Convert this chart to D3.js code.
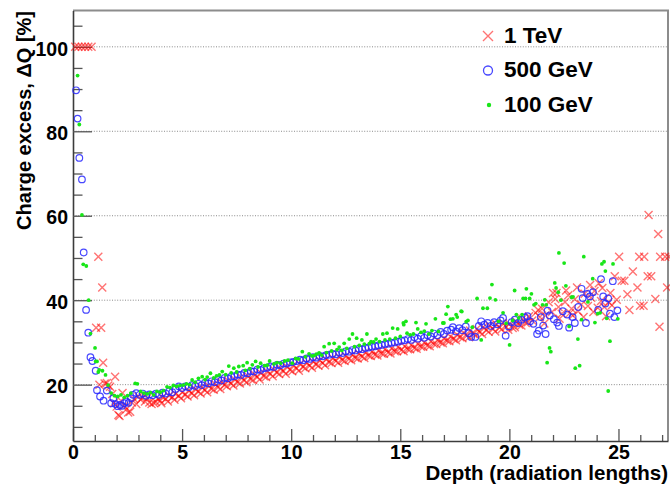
<!DOCTYPE html>
<html><head><meta charset="utf-8">
<script src="https://cdn.jsdelivr.net/npm/d3@7"></script>
<style>
body{margin:0;background:#fff}
svg{display:block}
text{font-family:"Liberation Sans",Arial,Helvetica,sans-serif;font-weight:bold;fill:#000}
</style>
</head><body>
<svg id="c" width="670" height="486"></svg>
<script>
// ---------- data ----------
const seriesNames = ["1 TeV", "500 GeV", "100 GeV"];
const xTicks = [0, 5, 10, 15, 20, 25];
const yTicks = [20, 40, 60, 80, 100];
const xTitle = "Depth (radiation lengths)";
const yTitle = "Charge excess, \u0394Q [%]";

// [depth, charge excess %]
const tev1 = [
[0.10,100],[0.25,100],[0.40,100],[0.55,100],[0.70,100],[0.85,100],
[1.06,33.5],[1.16,50.3],[1.21,20.0],[1.29,33.5],[1.34,43.0],[1.38,25.2],[1.45,20.3],[1.55,20.4],[1.62,19.8],[1.70,19.5],[1.80,17.8],[1.87,15.6],[1.93,21.9],[2.00,14.8],[2.08,12.8],[2.13,12.6],[2.20,16.2],[2.27,18.0],[2.35,15.0],[2.45,14.2],[2.53,13.4],[2.62,13.6],[2.70,15.8],[2.80,16.6],[2.90,15.4],[3.00,17.2],[3.10,16.4],[3.20,17.0],[3.30,16.0],[3.40,16.8],[3.50,15.8],[3.60,15.4],[3.70,15.7],[3.80,15.9],[3.90,16.6],[4.00,16.2],[4.10,17.0],[4.25,16.6],[4.40,17.4],[4.55,17.0],[4.70,17.8],[4.85,17.3],[5.00,18.2],[5.15,17.6],[5.30,18.6],[5.45,17.9],[5.60,19.0],[5.75,18.3],[5.90,19.4],[6.05,18.7],[6.20,19.8],[6.35,19.0],[6.50,20.2],[6.65,19.4],[6.80,20.6],[6.95,19.9],[7.10,21.0],[7.25,20.2],[7.40,21.3],[7.55,20.6],[7.70,21.8],[7.85,21.0],[8.00,22.1],[8.15,21.3],[8.30,22.5],[8.45,21.8],[8.60,22.8],[8.75,22.0],[8.90,23.2],[9.05,22.5],[9.20,23.6],[9.35,22.8],[9.50,23.9],[9.65,23.2],[9.80,24.3],[9.95,23.5],[10.10,24.6],[10.25,23.8],[10.40,24.9],[10.55,24.2],[10.70,25.2],[10.85,24.5],[11.00,25.5],[11.15,24.8],[11.30,25.8],[11.45,25.1],[11.60,26.0],[11.75,25.3],[11.90,26.3],[12.05,25.6],[12.20,26.6],[12.35,25.8],[12.50,26.8],[12.65,26.1],[12.80,27.1],[12.95,26.3],[13.10,27.3],[13.25,26.6],[13.40,27.6],[13.55,26.9],[13.70,27.8],[13.85,27.1],[14.00,28.1],[14.15,27.4],[14.30,28.4],[14.45,27.6],[14.60,28.6],[14.75,27.9],[14.90,28.9],[15.05,28.2],[15.20,29.1],[15.35,28.4],[15.50,29.4],[15.65,28.7],[15.80,29.7],[15.95,29.0],[16.10,30.0],[16.25,29.3],[16.40,30.3],[16.55,29.6],[16.70,30.6],[16.85,30.0],[17.00,31.0],[17.15,30.4],[17.30,31.4],[17.45,30.8],[17.60,31.8],[17.75,31.2],[17.90,32.3],[18.05,31.6],[18.20,32.8],[18.35,32.0],[18.50,33.2],[18.65,32.4],[18.80,33.6],[18.95,32.9],[19.10,34.0],[19.25,33.2],[19.40,34.3],[19.55,33.5],[19.70,34.6],[19.85,33.7],[20.00,34.4],[20.15,33.4],[20.30,35.0],[20.45,34.2],[20.60,35.6],[20.75,34.6],[20.90,36.2],[21.05,35.2],[21.20,37.0],[21.32,37.7],[21.40,36.0],[21.50,38.0],[21.60,34.5],[21.65,36.4],[21.80,39.5],[21.95,37.2],[22.00,41.7],[22.10,40.3],[22.16,41.7],[22.25,38.4],[22.30,35.6],[22.40,36.8],[22.55,39.6],[22.60,42.3],[22.70,41.2],[22.78,37.0],[22.85,38.0],[22.90,36.4],[23.00,40.2],[23.10,43.0],[23.15,37.4],[23.30,39.0],[23.40,36.0],[23.45,41.5],[23.60,38.6],[23.70,43.6],[23.75,40.6],[23.85,37.2],[23.90,42.2],[24.05,38.2],[24.10,44.0],[24.20,39.8],[24.26,42.9],[24.35,38.4],[24.43,36.2],[24.55,39.6],[24.63,41.7],[24.70,38.8],[24.83,45.7],[24.92,40.1],[25.03,50.3],[25.15,44.6],[25.27,44.6],[25.41,41.4],[25.50,37.7],[25.66,46.8],[25.87,43.0],[25.95,50.3],[25.99,38.7],[26.15,38.7],[26.18,50.3],[26.34,45.7],[26.38,60.2],[26.50,45.7],[26.69,40.3],[26.82,55.7],[26.88,33.7],[26.91,50.3],[27.14,50.3],[27.23,43.0],[27.30,50.3],
// lower edge of the 1 TeV band
[4.05,15.6],[4.35,16.0],[4.65,16.4],[4.95,16.8],[5.25,17.2],[5.55,17.5],[5.85,17.9],[6.15,18.2],[6.45,18.8],[6.75,19.0],[7.05,19.6],[7.35,19.8],[7.65,20.3],[7.95,20.6],[8.25,21.1],[8.55,21.2],[8.85,21.8],[9.15,22.0],[9.45,22.5],[9.75,22.6],[10.05,23.2],[10.35,23.3],[10.65,23.9],[10.95,24.0],[11.25,24.5],[11.55,24.6],[11.85,25.1],[12.15,25.2],[12.45,25.6],[12.75,25.8],[13.05,26.2],[13.35,26.3],[13.65,26.8],[13.95,26.9],[14.25,27.3],[14.55,27.4],[14.85,27.9],[15.15,27.9],[15.45,28.4],[15.75,28.5],[16.05,29.0],[16.35,29.1],[16.65,29.6],[16.95,29.8],[17.25,30.3],[17.55,30.5],[17.85,31.0],[18.15,31.2],[18.45,31.8],[18.75,32.0],[19.05,32.5],[19.35,32.6],[19.65,33.1],[19.95,33.0],[20.25,33.6],[20.55,34.0],[20.85,34.8]
];

const gev500 = [
[0.14,89.7],[0.21,83.0],[0.29,73.7],[0.41,68.6],[0.49,51.3],[0.60,37.7],[0.70,32.3],[0.80,26.5],[0.89,25.6],[1.04,23.3],[1.10,18.7],[1.24,17.2],[1.40,16.2],[1.55,18.6],[1.75,15.6],[1.85,16.8],[1.95,15.4],[2.05,14.9],[2.15,15.2],[2.25,15.0],[2.35,15.6],[2.45,16.0],[2.55,15.7],[2.65,16.8],[2.75,17.6],[2.90,18.0],[3.05,17.6],[3.20,17.9],[3.35,17.4],[3.50,17.7],[3.65,17.5],[3.80,17.9],[3.95,17.6],[4.10,18.1],[4.25,17.9],[4.40,18.4],[4.55,18.2],[4.70,19.0],[4.85,19.6],[5.00,19.2],[5.15,19.6],[5.30,19.4],[5.45,19.9],[5.60,19.7],[5.75,20.2],[5.90,19.9],[6.05,20.5],[6.20,20.3],[6.35,20.8],[6.50,20.6],[6.65,21.2],[6.80,21.0],[6.95,21.6],[7.10,21.5],[7.25,21.9],[7.40,22.0],[7.55,22.4],[7.70,22.3],[7.85,22.8],[8.00,22.7],[8.15,23.2],[8.30,23.1],[8.45,23.6],[8.60,23.5],[8.75,23.9],[8.90,24.0],[9.05,24.3],[9.20,24.2],[9.35,24.7],[9.50,24.6],[9.65,25.0],[9.80,25.0],[9.95,25.3],[10.10,25.4],[10.25,25.6],[10.40,25.9],[10.55,25.8],[10.70,26.2],[10.85,26.1],[11.00,26.5],[11.15,26.4],[11.30,26.8],[11.45,26.7],[11.60,27.0],[11.75,27.1],[11.90,27.3],[12.05,27.2],[12.20,27.6],[12.35,27.5],[12.50,27.9],[12.65,27.8],[12.80,28.2],[12.95,28.1],[13.10,28.5],[13.25,28.4],[13.40,28.7],[13.55,28.8],[13.70,29.0],[13.85,29.1],[14.00,29.3],[14.15,29.4],[14.30,29.6],[14.45,29.7],[14.60,29.9],[14.75,30.0],[14.90,30.2],[15.05,30.4],[15.20,30.5],[15.35,30.8],[15.50,30.6],[15.65,31.2],[15.80,30.9],[15.95,31.5],[16.10,31.1],[16.25,31.7],[16.40,31.4],[16.55,32.1],[16.70,31.7],[16.85,32.5],[17.00,32.0],[17.15,32.8],[17.33,33.0],[17.41,33.6],[17.55,32.6],[17.70,33.4],[17.85,32.9],[18.00,33.8],[18.15,32.2],[18.25,31.3],[18.44,31.3],[18.60,33.9],[18.71,35.0],[18.85,34.2],[19.00,34.6],[19.15,33.9],[19.30,34.8],[19.45,34.3],[19.60,35.2],[19.71,35.8],[19.83,31.6],[19.97,33.8],[20.10,34.8],[20.25,35.4],[20.40,34.6],[20.55,35.4],[20.70,35.9],[20.83,36.2],[20.95,35.0],[21.10,34.4],[21.27,32.0],[21.35,32.8],[21.44,36.0],[21.55,34.0],[21.66,32.0],[21.75,37.5],[21.85,36.4],[22.04,35.5],[22.19,34.7],[22.27,33.9],[22.45,37.4],[22.65,36.6],[22.74,33.5],[22.90,36.0],[23.00,34.6],[23.16,38.4],[23.31,42.7],[23.36,40.5],[23.51,34.6],[23.57,41.5],[23.69,40.9],[23.83,41.9],[24.07,37.7],[24.20,45.0],[24.30,40.9],[24.40,39.2],[24.53,40.4],[24.61,36.8],[24.74,44.5],[24.81,36.0],[24.95,37.6]
];

const gev100 = [
[0.21,93.2],[0.29,81.6],[0.41,60.2],[0.47,48.5],[0.61,48.1],[0.72,40.0],[0.80,32.1],[1.01,28.7],[1.04,25.5],[1.10,25.5],[1.16,23.0],[1.20,23.5],[1.35,23.3],[1.49,22.3],[1.61,19.9],[1.75,18.0],[1.90,17.4],[2.05,17.2],[2.20,17.6],[2.35,17.0],[2.50,17.4],[2.65,18.0],[2.85,20.3],[2.95,20.2],[3.10,18.4],[3.25,18.0],[3.40,17.8],[3.55,18.1],[3.70,17.6],[3.85,18.4],[4.00,18.2],[4.15,18.6],[4.31,19.5],[4.45,19.3],[4.60,19.8],[4.75,19.6],[4.90,19.8],[5.05,19.9],[5.20,20.2],[5.35,20.0],[5.46,21.1],[5.60,20.6],[5.75,21.5],[5.92,21.9],[6.05,21.2],[6.15,21.8],[6.30,22.7],[6.45,21.6],[6.58,22.1],[6.71,22.3],[6.84,23.1],[7.00,22.4],[7.14,24.4],[7.25,22.8],[7.37,23.9],[7.50,23.0],[7.60,24.3],[7.80,24.5],[7.90,23.4],[7.98,25.2],[8.10,23.8],[8.22,24.7],[8.37,25.5],[8.48,24.2],[8.60,25.1],[8.78,24.5],[8.90,24.6],[9.01,25.6],[9.21,24.9],[9.35,25.2],[9.52,25.1],[9.70,25.6],[9.85,25.8],[10.05,25.1],[10.20,26.2],[10.33,26.1],[10.51,27.8],[10.65,26.6],[10.82,27.3],[10.95,26.8],[11.05,26.9],[11.15,27.2],[11.28,27.5],[11.40,27.0],[11.51,29.0],[11.62,27.6],[11.74,29.7],[11.85,28.0],[11.97,29.8],[12.10,28.3],[12.20,28.9],[12.32,28.1],[12.43,29.8],[12.55,28.6],[12.66,30.8],[12.81,32.0],[12.90,29.0],[13.00,31.0],[13.12,29.3],[13.24,30.6],[13.35,29.6],[13.47,32.0],[13.58,29.7],[13.66,30.2],[13.78,30.1],[13.89,30.8],[14.05,30.2],[14.20,32.0],[14.30,30.6],[14.39,32.2],[14.52,30.8],[14.65,33.4],[14.78,31.0],[14.88,33.2],[15.00,31.4],[15.14,34.6],[15.16,34.2],[15.26,35.0],[15.31,32.2],[15.45,31.8],[15.60,32.0],[15.72,34.7],[15.80,33.2],[15.95,32.4],[16.10,32.7],[16.18,34.4],[16.31,32.0],[16.45,32.8],[16.61,35.6],[16.75,32.6],[16.95,34.6],[17.00,34.6],[17.10,36.7],[17.18,38.5],[17.30,35.5],[17.41,35.6],[17.56,36.6],[17.61,36.0],[17.79,37.4],[17.82,37.3],[18.02,34.9],[18.10,35.2],[18.30,33.6],[18.52,40.4],[18.71,30.6],[18.79,38.1],[18.99,38.1],[19.11,40.5],[19.20,43.7],[19.36,40.1],[19.50,35.0],[19.71,37.0],[19.85,34.5],[20.01,29.4],[20.15,35.2],[20.24,42.3],[20.32,36.6],[20.43,35.8],[20.58,36.6],[20.63,40.4],[20.74,40.4],[20.78,42.7],[20.93,40.4],[21.01,41.5],[21.13,38.9],[21.21,39.2],[21.52,38.9],[21.62,40.1],[21.69,38.9],[21.73,25.2],[21.84,28.7],[21.90,27.8],[22.08,44.1],[22.14,42.9],[22.24,41.9],[22.27,51.2],[22.36,40.0],[22.51,48.8],[22.59,43.4],[22.74,33.8],[22.85,40.7],[22.92,40.8],[23.02,23.9],[23.14,30.8],[23.22,24.5],[23.31,35.4],[23.41,50.3],[23.60,39.6],[23.82,45.1],[23.92,34.7],[24.05,36.8],[24.16,37.0],[24.24,48.6],[24.34,49.1],[24.40,46.9],[24.46,35.7],[24.53,18.5],[24.61,30.3],[24.75,48.6],[24.97,35.6]
];

// ---------- layout ----------
const L = 73, R = 668, T = 10.5, B = 441;
const x = d3.scaleLinear().domain([0, 27.27]).range([L, R]);
const y = d3.scaleLinear().domain([6.66, 108.6]).range([B, T]);
const svg = d3.select("#c");

// grid lines (horizontal, dotted)
svg.append("g").selectAll("line").data(yTicks).join("line")
  .attr("x1", L).attr("x2", R)
  .attr("y1", d => y(d)).attr("y2", d => y(d))
  .attr("stroke", "#8a8a8a").attr("stroke-width", 1)
  .attr("stroke-dasharray", "1,1.6");

// frame top / right
svg.append("path").attr("d", `M${L},${T}H${R}V${B}`)
  .attr("fill", "none").attr("stroke", "#8c8c8c").attr("stroke-width", 2);

// minor ticks
const xMinor = d3.range(0, 28).filter(v => v % 5 !== 0);
const yMinor = d3.range(10, 109, 5).filter(v => v % 20 !== 0);
svg.append("g").attr("transform", `translate(0,${B})`)
  .call(d3.axisBottom(x).tickValues(xMinor).tickSize(-6).tickSizeOuter(0).tickFormat(""))
  .call(g => g.select(".domain").remove())
  .call(g => g.selectAll("line").attr("stroke", "#555").attr("stroke-width", 1.3));
svg.append("g").attr("transform", `translate(${L},0)`)
  .call(d3.axisLeft(y).tickValues(yMinor).tickSize(-9.5).tickSizeOuter(0).tickFormat(""))
  .call(g => g.select(".domain").remove())
  .call(g => g.selectAll("line").attr("stroke", "#555").attr("stroke-width", 1.3));

// major axes
const xAx = svg.append("g").attr("transform", `translate(0,${B})`)
  .call(d3.axisBottom(x).tickValues(xTicks).tickSize(-12).tickSizeOuter(0).tickPadding(4));
const yAx = svg.append("g").attr("transform", `translate(${L},0)`)
  .call(d3.axisLeft(y).tickValues(yTicks).tickSize(-19).tickSizeOuter(0).tickPadding(5));
[xAx, yAx].forEach(g => {
  g.select(".domain").attr("stroke", "#3c3c3c").attr("stroke-width", 1.6);
  g.selectAll(".tick line").attr("stroke", "#555").attr("stroke-width", 1.3);
  g.selectAll(".tick text").attr("font-family", "'Liberation Sans',Arial,sans-serif")
    .attr("font-weight", "bold").attr("font-size", 19.5).attr("fill", "#000");
});
yAx.selectAll(".tick text").attr("dy", "0.42em");

// markers
const xPath = s => `M${-s},${-s}L${s},${s}M${-s},${s}L${s},${-s}`;
const plot = svg.append("g");
plot.append("g").selectAll("path").data(tev1).join("path")
  .attr("transform", d => `translate(${x(d[0])},${y(d[1])})`)
  .attr("d", xPath(4)).attr("fill", "none")
  .attr("stroke", "rgba(255,0,0,0.55)").attr("stroke-width", 1.4);
plot.append("g").selectAll("circle").data(gev500).join("circle")
  .attr("cx", d => x(d[0])).attr("cy", d => y(d[1])).attr("r", 3.3)
  .attr("fill", "none").attr("stroke", "rgba(40,40,255,0.85)").attr("stroke-width", 1.2);
plot.append("g").selectAll("circle").data(gev100).join("circle")
  .attr("cx", d => x(d[0])).attr("cy", d => y(d[1])).attr("r", 1.9)
  .attr("fill", "#18e618");

// legend
const leg = svg.append("g");
const legY = [43, 77, 112];
leg.append("path").attr("transform", `translate(488,${legY[0] - 7})`).attr("d", xPath(5))
  .attr("fill", "none").attr("stroke", "rgba(255,0,0,0.55)").attr("stroke-width", 1.4);
leg.append("circle").attr("cx", 488).attr("cy", legY[1] - 6.5).attr("r", 4.5)
  .attr("fill", "none").attr("stroke", "rgba(40,40,255,0.85)").attr("stroke-width", 1.3);
leg.append("circle").attr("cx", 489).attr("cy", legY[2] - 7).attr("r", 2.2).attr("fill", "#18e618");
leg.selectAll("text").data(seriesNames).join("text")
  .attr("x", 504).attr("y", (d, i) => legY[i]).attr("font-size", 22.5).text(d => d);

// axis titles
svg.append("text").attr("x", R).attr("y", 480).attr("text-anchor", "end")
  .attr("font-size", 20.5).text(xTitle);
svg.append("text").attr("transform", "translate(31,11) rotate(-90)").attr("text-anchor", "end")
  .attr("font-size", 20).text(yTitle);
</script>
</body></html>
